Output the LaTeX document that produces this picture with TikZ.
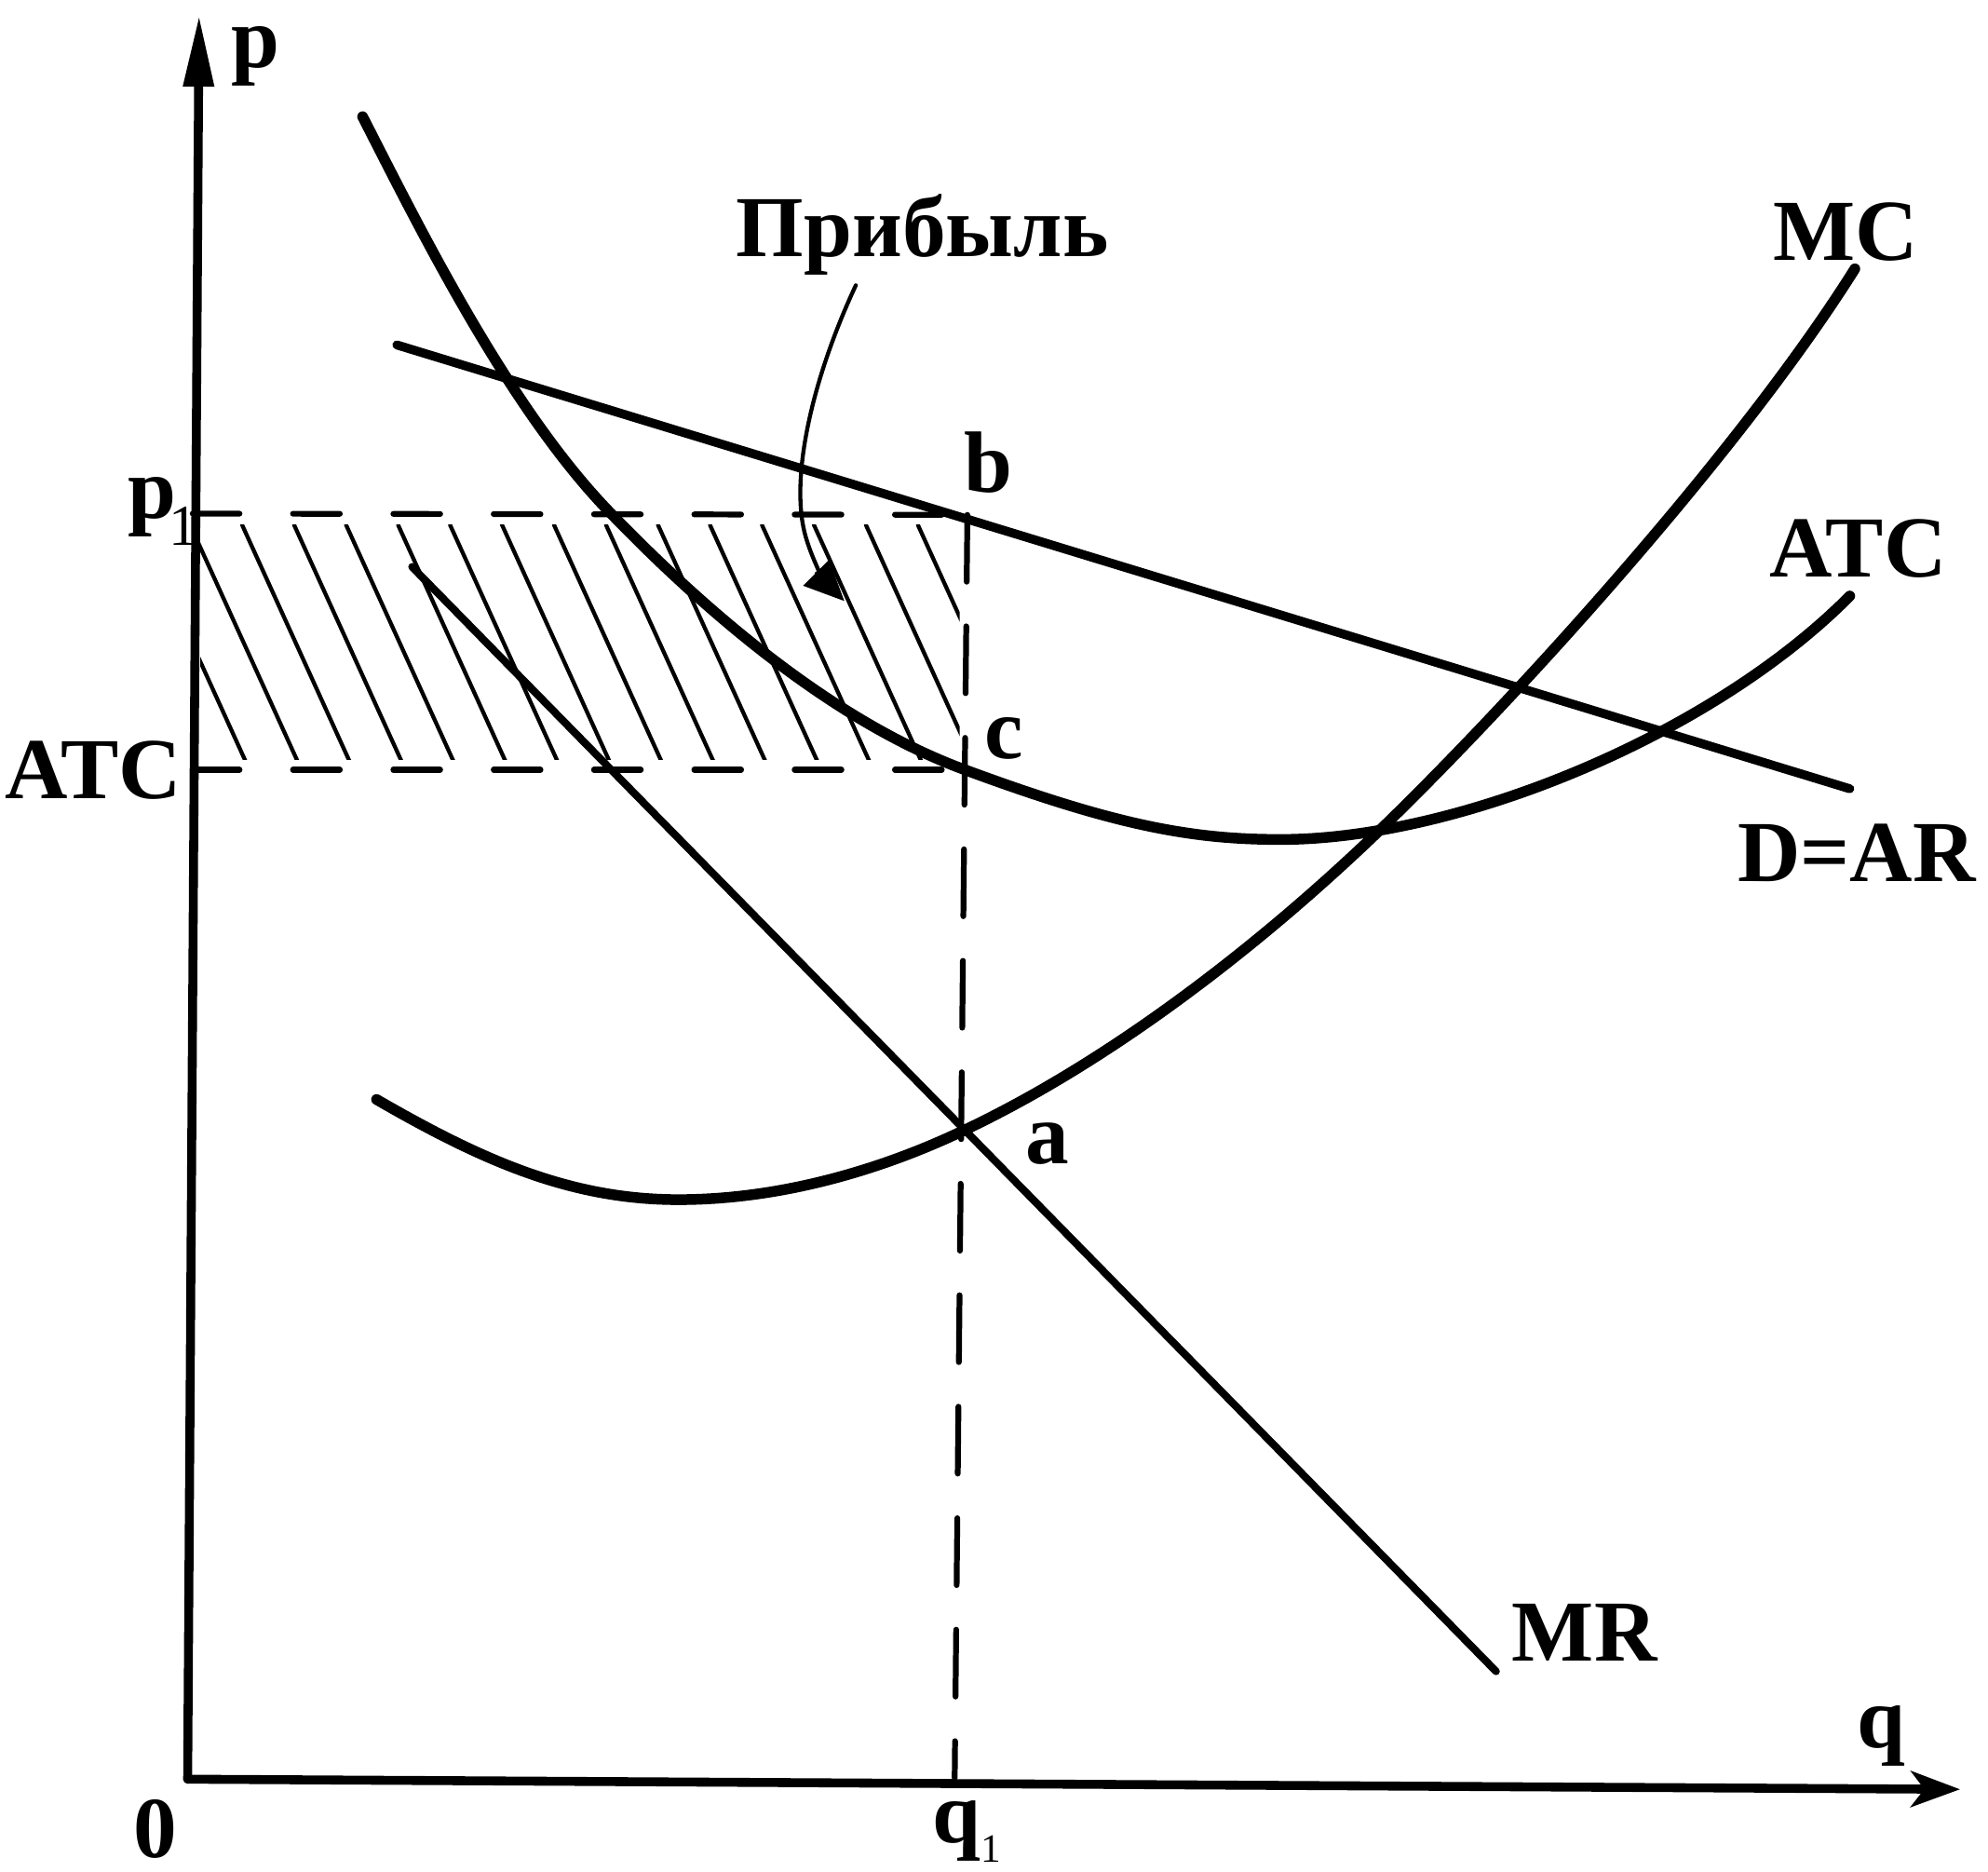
\documentclass[tikz,border=0pt]{standalone}
\usepackage{fontspec}
\setmainfont{Liberation Serif}
\usetikzlibrary{arrows.meta}
\begin{document}
\begin{tikzpicture}[x=0.01cm,y=-0.01cm,line cap=round,line join=round,
  lbl/.style={font=\fontsize{19.5}{22}\selectfont\bfseries,inner sep=0pt,anchor=base west},
  curve/.style={line width=2.4pt},
  axisline/.style={line width=2pt},
  dline/.style={line width=2pt},
  mrline/.style={line width=1.7pt},
  guide/.style={line width=1.3pt,dash pattern=on 10.5pt off 12pt},
  vguide/.style={line width=1.3pt,dash pattern=on 15pt off 10pt},
  hatchline/.style={line width=0.9pt},
  pointer/.style={line width=0.9pt}]
\useasboundingbox (0,0) rectangle (1568,1476);

% axes
\coordinate (O) at (148,1403);
\coordinate (ytip) at (157,12);
\coordinate (xtip) at (1546,1411);
\draw[axisline,-{Triangle[length=16pt,width=6.5pt]}] (O) -- (ytip);
\draw[axisline,-{Stealth[length=11pt,width=8pt,inset=3pt]}] (O) -- (xtip);

% hatching of the profit area
\begin{scope}
  \clip (158,414) rectangle (757,599);
  \foreach \k in {-5,...,16} {
    \draw[hatchline] ({150+41*\k},414) -- ++(95,209);
  }
\end{scope}

% guide lines
\coordinate (p1L) at (152,405);
\coordinate (b) at (763,406);
\coordinate (atcL) at (152,607);
\coordinate (c) at (761,607);
\coordinate (a) at (759,892);
\coordinate (q1) at (753,1402);
\draw[guide] (p1L) -- (b);
\draw[guide] (atcL) -- (c);
\draw[vguide] (b) -- (q1);

% demand D=AR
\coordinate (d1) at (313,272);
\coordinate (d2) at (1459,622);
\draw[dline] (d1) -- (d2);

% marginal revenue MR
\coordinate (mr1) at (325,447);
\coordinate (mr2) at (1180,1318);
\draw[mrline] (mr1) -- (mr2);

% ATC curve
\coordinate (atc1) at (286,92);
\coordinate (atcmin) at (1010,662);
\coordinate (atc2) at (1459,470);
\draw[curve] (atc1) .. controls (330,178) and (400,320) .. (480,403)
  .. controls (560,486) and (660,570) .. (c)
  .. controls (880,651) and (940,662) .. (atcmin)
  .. controls (1150,662) and (1350,580) .. (atc2);

% MC curve
\coordinate (mc1) at (297,867);
\coordinate (mcmin) at (535,946);
\coordinate (mc2) at (1463,212);
\draw[curve] (mc1) .. controls (380,915) and (450,946) .. (mcmin)
  .. controls (620,946) and (700,920) .. (a)
  .. controls (880,835) and (1000,740) .. (1091,652)
  .. controls (1190,556) and (1370,360) .. (mc2);

% pointer from the word to the area
\coordinate (ptrS) at (675,225);
\coordinate (ptrE) at (666,474);
\draw[pointer,-{Triangle[length=9pt,width=8pt]}] (ptrS) .. controls (640,300) and (622,380) .. (636,425) .. controls (642,445) and (652,460) .. (ptrE);

% labels
\node[lbl] (plbl) at (182,53) {p};
\node[lbl] (qlbl) at (1464,1378) {q};
\node[lbl] (zero) at (105,1465) {0};
\node[lbl] (p1lbl) at (100,409) {p\kern-1.5pt\raisebox{-6pt}{\fontsize{13}{13}\selectfont\mdseries 1}};
\node[lbl] (atcleft) at (3,630) {ATC};
\node[lbl] (q1lbl) at (735,1453) {q\raisebox{-4.5pt}{\fontsize{9}{9}\selectfont\mdseries 1}};
\node[lbl] (blbl) at (760,388) {b};
\node[lbl] (clbl) at (776,598) {c};
\node[lbl] (albl) at (808,918) {a};
\node[lbl] (profit) at (580,202) {Прибыль};
\node[lbl] (mclbl) at (1398,205) {MC};
\node[lbl] (atclbl) at (1395,455) {ATC};
\node[lbl] (dlbl) at (1370,695) {D=AR};
\node[lbl] (mrlbl) at (1192,1310) {MR};
\end{tikzpicture}
\end{document}
